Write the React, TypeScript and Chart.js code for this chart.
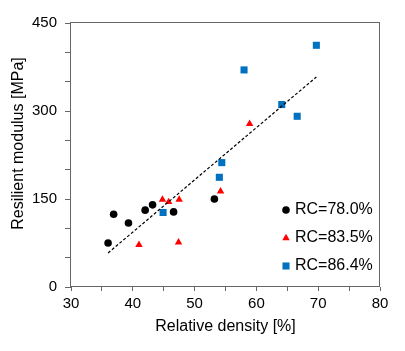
import React, { useEffect, useRef } from 'react';
import { Chart, registerables } from 'chart.js';
import { drawPoint } from 'chart.js/helpers';

Chart.register(...registerables);

// Series labels and measured values (relative density %, resilient modulus MPa)
const seriesLabels = ['RC=78.0%', 'RC=83.5%', 'RC=86.4%'];

const rc780X = [36.0, 36.9, 39.3, 42.0, 43.2, 46.6, 53.2];
const rc780Y = [75, 124, 109, 131, 140, 128, 150];

const rc835X = [41.0, 44.8, 45.8, 47.5, 47.4, 54.2, 58.9];
const rc835Y = [72, 149, 145, 149, 76, 163, 278];

const rc864X = [44.9, 54.0, 54.4, 58.0, 64.1, 66.6, 69.7];
const rc864Y = [127, 187, 212, 370, 311, 291, 412];

// Linear trend through all points
const trendX = [36.0, 69.7];
const trendY = [58, 358];

const xTickLabels = [30, 40, 50, 60, 70, 80];
const yTickLabels = [0, 150, 300, 450];
const xTitle = 'Relative density [%]';
const yTitle = 'Resilient modulus [MPa]';

const FONT = '"Liberation Sans", Arial, Helvetica, sans-serif';
const AXIS = '#666666';

const toPoints = (xs: number[], ys: number[]) => xs.map((x, i) => ({ x, y: ys[i] }));

// Plot-area frame on all four sides
const framePlugin = {
  id: 'frame',
  beforeDatasetsDraw(chart: any) {
    const { ctx, chartArea: a } = chart;
    ctx.save();
    ctx.strokeStyle = AXIS;
    ctx.lineWidth = 1;
    ctx.strokeRect(a.left - 0.5, a.top - 0.5, a.right - a.left, a.bottom - a.top);
    ctx.restore();
  },
};

// Rotated y-axis title
const yTitlePlugin = {
  id: 'yTitle',
  afterDraw(chart: any) {
    const { ctx } = chart;
    ctx.save();
    ctx.translate(19, 143.5);
    ctx.rotate(-Math.PI / 2);
    ctx.font = `16px ${FONT}`;
    ctx.fillStyle = '#000';
    ctx.textAlign = 'center';
    ctx.textBaseline = 'middle';
    ctx.fillText(yTitle, 0, 0);
    ctx.restore();
  },
};

// Legend inside the lower-right corner of the plot area
const insideLegendPlugin = {
  id: 'insideLegend',
  afterDatasetsDraw(chart: any) {
    const { ctx } = chart;
    const markerX = 286;
    const textX = 295;
    const firstY = 210;
    const rowGap = 28;
    ctx.save();
    seriesLabels.forEach((label, i) => {
      const ds: any = chart.data.datasets[i];
      const y = firstY + rowGap * i;
      ctx.fillStyle = ds.backgroundColor;
      ctx.strokeStyle = ds.backgroundColor;
      drawPoint(ctx, { pointStyle: ds.pointStyle, radius: ds.pointRadius, rotation: 0, borderWidth: 0 } as any, markerX, y);
      ctx.font = `16px ${FONT}`;
      ctx.fillStyle = '#000';
      ctx.textAlign = 'left';
      ctx.textBaseline = 'middle';
      ctx.fillText(label, textX, y);
    });
    ctx.restore();
  },
};

export default function App() {
  const ref = useRef<HTMLCanvasElement>(null);

  useEffect(() => {
    const chart = new Chart(ref.current!, {
      type: 'scatter',
      data: {
        datasets: [
          {
            label: seriesLabels[0],
            data: toPoints(rc780X, rc780Y),
            pointStyle: 'circle',
            pointRadius: 3.8,
            backgroundColor: '#000000',
            borderColor: '#000000',
            borderWidth: 0,
          },
          {
            label: seriesLabels[1],
            data: toPoints(rc835X, rc835Y),
            pointStyle: 'triangle',
            pointRadius: 4.3,
            backgroundColor: '#ff0000',
            borderColor: '#ff0000',
            borderWidth: 0,
          },
          {
            label: seriesLabels[2],
            data: toPoints(rc864X, rc864Y),
            pointStyle: 'rect',
            pointRadius: 5,
            backgroundColor: '#0070c0',
            borderColor: '#0070c0',
            borderWidth: 0,
          },
          {
            type: 'line',
            label: 'trend',
            data: toPoints(trendX, trendY),
            showLine: true,
            pointRadius: 0,
            borderColor: '#000000',
            borderWidth: 1.2,
            borderDash: [3, 2],
            fill: false,
            order: -1,
          } as any,
        ],
      },
      options: {
        responsive: false,
        animation: false,
        devicePixelRatio: 1,
        layout: { padding: { top: 23, right: 25, left: 0, bottom: 0 } },
        plugins: {
          legend: { display: false },
          tooltip: { enabled: false },
        },
        scales: {
          x: {
            type: 'linear',
            position: 'bottom',
            min: 30,
            max: 80,
            afterFit: (s: any) => {
              s.height = 64;
            },
            border: { display: false },
            grid: { drawOnChartArea: false, drawTicks: true, tickLength: 4, tickColor: AXIS, color: AXIS },
            ticks: {
              stepSize: 5,
              autoSkip: false,
              maxRotation: 0,
              padding: 4,
              color: '#000',
              font: { family: FONT, size: 15 },
              callback: (v: any) => (xTickLabels.includes(Number(v)) ? String(v) : ''),
            },
            title: {
              display: true,
              text: xTitle,
              color: '#000',
              font: { family: FONT, size: 16 },
              padding: { top: 0, bottom: 15 },
            },
          },
          y: {
            type: 'linear',
            min: 0,
            max: 450,
            afterFit: (s: any) => {
              s.width = 71;
            },
            border: { display: false },
            grid: { drawOnChartArea: false, drawTicks: true, tickLength: 6, tickColor: AXIS, color: AXIS },
            ticks: {
              stepSize: 50,
              autoSkip: false,
              padding: 8,
              color: '#000',
              font: { family: FONT, size: 15 },
              callback: (v: any) => (yTickLabels.includes(Number(v)) ? String(v) : ''),
            },
          },
        },
      },
      plugins: [framePlugin, yTitlePlugin, insideLegendPlugin],
    });
    return () => chart.destroy();
  }, []);

  return (
    <div style={{ position: 'fixed', left: 0, top: 0, width: 405, height: 351, background: '#fff' }}>
      <canvas ref={ref} width={405} height={351} style={{ display: 'block', width: 405, height: 351 }} />
    </div>
  );
}
